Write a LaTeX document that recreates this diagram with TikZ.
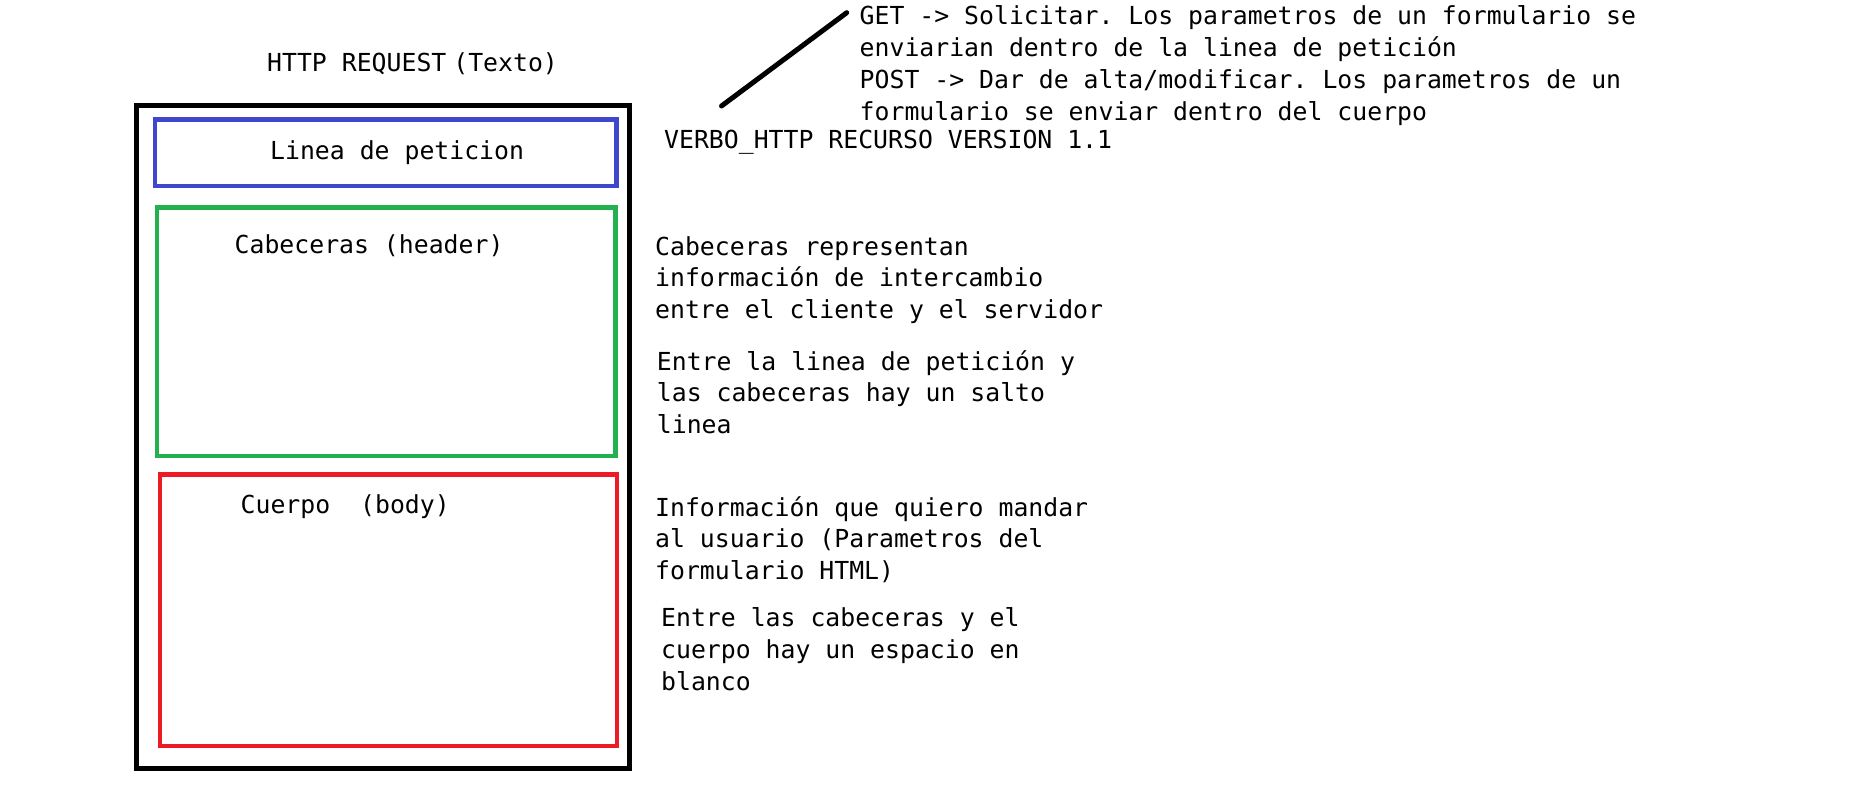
\documentclass[tikz,border=0pt]{standalone}
\usepackage{fontspec}
\setmonofont{DejaVu Sans Mono}
\definecolor{pblue}{RGB}{63,72,204}
\definecolor{pgreen}{RGB}{34,177,76}
\definecolor{pred}{RGB}{237,28,36}
\newcommand\blk[1]{\begin{tabular}[t]{@{}l@{}}#1\end{tabular}}
\begin{document}
\begin{tikzpicture}[x=1pt,y=-1pt,
  lbl/.style={anchor=base west, inner sep=0pt, font=\ttfamily\fontsize{24.8}{31.7}\selectfont},
  frame/.style={draw=black, line width=5pt, inner sep=0pt},
  part/.style={line width=4.5pt, inner sep=0pt},
  stroke/.style={line width=5pt, line cap=round}]
\useasboundingbox[fill=white] (0,0) rectangle (1870,792);

% boxes
\node[frame, minimum width=493.4pt, minimum height=663pt] (req) at (383,436.5) {};
\node[part, draw=pblue, minimum width=461.6pt, minimum height=66.7pt] (linea) at (385.8,152.7) {};
\node[part, draw=pgreen, minimum width=458.4pt, minimum height=248.3pt] (cab) at (386.2,331.85) {};
\node[part, draw=pred, minimum width=457.4pt, minimum height=271.3pt] (cue) at (388.5,610.35) {};

% labels inside
\node[lbl] (title) at (267,71.7) {HTTP REQUEST\hspace{7pt}(Texto)};
\node[lbl] (tlinea) at (270,159) {Linea de peticion};
\node[lbl] (tcab) at (234.5,253) {Cabeceras (header)};
\node[lbl] (tcue) at (240.5,513) {Cuerpo\ \ (body)};

% explanatory text
\node[lbl] (verbo) at (664,148.3) {VERBO\_HTTP RECURSO VERSION 1.1};
\node[lbl] (getpost) at (859.5,25) {\blk{GET -> Solicitar. Los parametros de un formulario se\\
enviarian dentro de la linea de petición\\
POST -> Dar de alta/modificar. Los parametros de un\\
formulario se enviar dentro del cuerpo}};
\node[lbl] (ecab) at (655,255) {\blk{Cabeceras representan\\
información de intercambio\\
entre el cliente y el servidor}};
\node[lbl] (esalto) at (656.7,370) {\blk{Entre la linea de petición y\\
las cabeceras hay un salto\\
linea}};
\node[lbl] (ecue) at (655,516) {\blk{Información que quiero mandar\\
al usuario (Parametros del\\
formulario HTML)}};
\node[lbl] (eblanco) at (661,626.7) {\blk{Entre las cabeceras y el\\
cuerpo hay un espacio en\\
blanco}};

% connector
\coordinate (c1) at (721.5,106);
\coordinate (c2) at (846.7,12.7);
\draw[stroke] (c1) -- (c2);
\end{tikzpicture}
\end{document}
